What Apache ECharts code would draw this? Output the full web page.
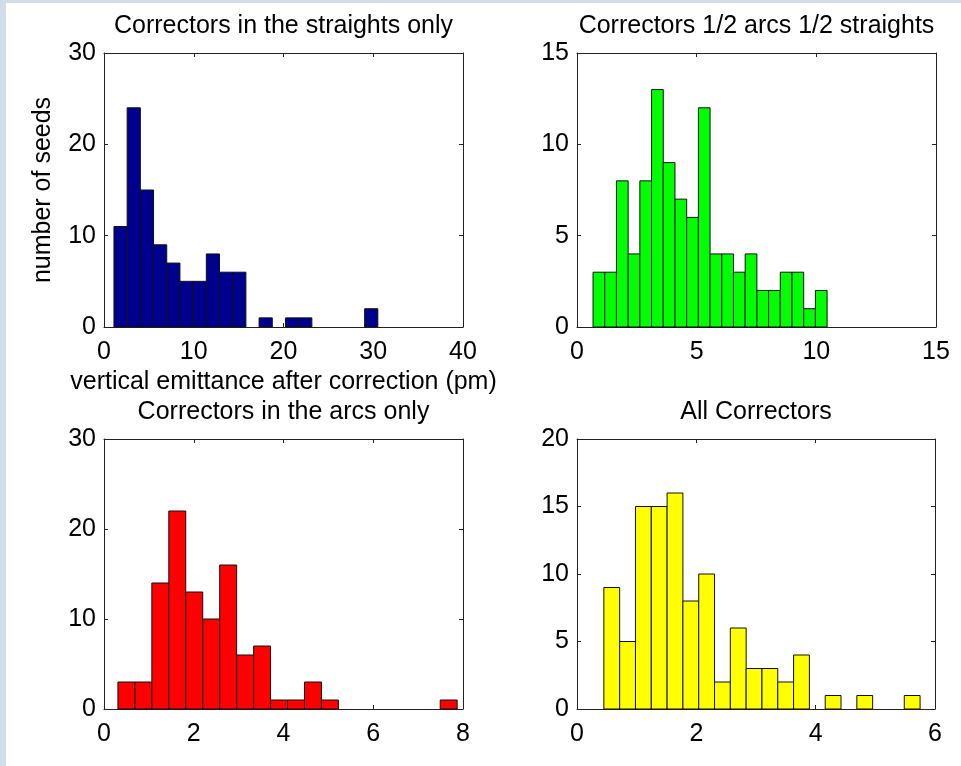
<!DOCTYPE html>
<html>
<head>
<meta charset="utf-8">
<script src="https://cdn.jsdelivr.net/npm/echarts@6/dist/echarts.min.js"></script>
<style>
html,body{margin:0;padding:0;background:#fff;}
#c{width:961px;height:766px;}
</style>
</head>
<body>
<div id="c"></div>
<script>
// ---- data ----
const titles = ["Correctors in the straights only", "Correctors 1/2 arcs 1/2 straights", "Correctors in the arcs only", "All Correctors"];
const countsStraights = [11, 24, 15, 9, 7, 5, 5, 8, 6, 6, 0, 1, 0, 1, 1, 0, 0, 0, 0, 2];
const countsHalf = [3, 3, 8, 4, 8, 13, 9, 7, 6, 12, 4, 4, 3, 4, 2, 2, 3, 3, 1, 2];
const countsArcs = [3, 3, 14, 22, 13, 10, 16, 6, 7, 1, 1, 3, 1, 0, 0, 0, 0, 0, 0, 1];
const countsAll = [9, 5, 15, 15, 16, 8, 10, 2, 6, 3, 3, 2, 4, 0, 1, 0, 1, 0, 0, 1];
const binStarts = [1.11, 0.67, 0.31, 0.45];
const binWidths = [1.47, 0.489, 0.378, 0.265];
const xMax = [40, 15, 8, 6];
const xInterval = [10, 5, 2, 2];
const yMax = [30, 15, 30, 20];
const yInterval = [10, 5, 10, 5];
const xAxisTitle = "vertical emittance after correction (pm)";
const yAxisTitle = "number of seeds";

const allCounts = [countsStraights, countsHalf, countsArcs, countsAll];
const colors = ["#00008f", "#00ff00", "#ff0000", "#ffff00"];
const grids = [
  {left: 104, top: 53, width: 359, height: 274},
  {left: 577, top: 53, width: 359, height: 274},
  {left: 104, top: 439, width: 359, height: 270},
  {left: 577, top: 439, width: 358, height: 270}
];
const FONT = "'Liberation Sans', Arial, sans-serif";
const FS = 25;
const lineC = "#222";

const chart = echarts.init(document.getElementById('c'), null, {renderer: 'canvas'});

const xAxes = [], yAxes = [], series = [], titleArr = [];
grids.forEach((g, i) => {
  xAxes.push({
    type: 'value', gridIndex: i, min: 0, max: xMax[i], interval: xInterval[i],
    position: 'bottom',
    axisLine: {show: true, onZero: false, lineStyle: {color: lineC, width: 1}},
    axisTick: {show: true, inside: true, length: 4, lineStyle: {color: lineC}},
    axisLabel: {show: true, color: '#000', fontSize: FS, fontFamily: FONT, margin: 13},
    splitLine: {show: false},
    name: i === 0 ? xAxisTitle : '', nameLocation: 'middle', nameGap: 43,
    nameTextStyle: {color: '#000', fontSize: FS, fontFamily: FONT}
  });
  xAxes.push({
    type: 'value', gridIndex: i, min: 0, max: xMax[i], interval: xInterval[i],
    position: 'top',
    axisLine: {show: true, onZero: false, lineStyle: {color: lineC, width: 1}},
    axisTick: {show: true, inside: true, length: 4, lineStyle: {color: lineC}},
    axisLabel: {show: false}, splitLine: {show: false}
  });
  yAxes.push({
    type: 'value', gridIndex: i, min: 0, max: yMax[i], interval: yInterval[i],
    position: 'left',
    axisLine: {show: true, onZero: false, lineStyle: {color: lineC, width: 1}},
    axisTick: {show: true, inside: true, length: 4, lineStyle: {color: lineC}},
    axisLabel: {show: true, color: '#000', fontSize: FS, fontFamily: FONT, margin: 8},
    splitLine: {show: false},
    name: i === 0 ? yAxisTitle : '', nameLocation: 'middle', nameGap: 48,
    nameTextStyle: {color: '#000', fontSize: FS, fontFamily: FONT}
  });
  yAxes.push({
    type: 'value', gridIndex: i, min: 0, max: yMax[i], interval: yInterval[i],
    position: 'right',
    axisLine: {show: true, onZero: false, lineStyle: {color: lineC, width: 1}},
    axisTick: {show: true, inside: true, length: 4, lineStyle: {color: lineC}},
    axisLabel: {show: false}, splitLine: {show: false}
  });
  const data = allCounts[i].map((c, k) => {
    const x0 = binStarts[i] + k * binWidths[i];
    return [x0, x0 + binWidths[i], c];
  }).filter(d => d[2] > 0);
  series.push({
    type: 'custom', xAxisIndex: 2 * i, yAxisIndex: 2 * i,
    data: data,
    encode: {x: [0, 1], y: 2},
    renderItem: (params, api) => {
      const p0 = api.coord([api.value(0), 0]);
      const p1 = api.coord([api.value(1), api.value(2)]);
      return {
        type: 'rect',
        shape: {x: p0[0], y: p1[1], width: p1[0] - p0[0], height: p0[1] - p1[1]},
        style: {fill: colors[i], stroke: '#111', lineWidth: 1}
      };
    }
  });
  titleArr.push({
    text: titles[i], left: g.left + g.width / 2, top: g.top - 39, textAlign: 'center', padding: 0,
    textStyle: {color: '#000', fontSize: FS, fontWeight: 'normal', fontFamily: FONT}
  });
});

chart.setOption({
  backgroundColor: '#fff',
  animation: false,
  title: titleArr,
  grid: grids,
  xAxis: xAxes,
  yAxis: yAxes,
  series: series,
  graphic: [
    {type: 'rect', shape: {x: 0, y: 0, width: 6, height: 766}, style: {fill: '#d3dde9'}, z: 100},
    {type: 'rect', shape: {x: 0, y: 0, width: 961, height: 3}, style: {fill: '#d3dde9'}, z: 100}
  ]
});
</script>
</body>
</html>
